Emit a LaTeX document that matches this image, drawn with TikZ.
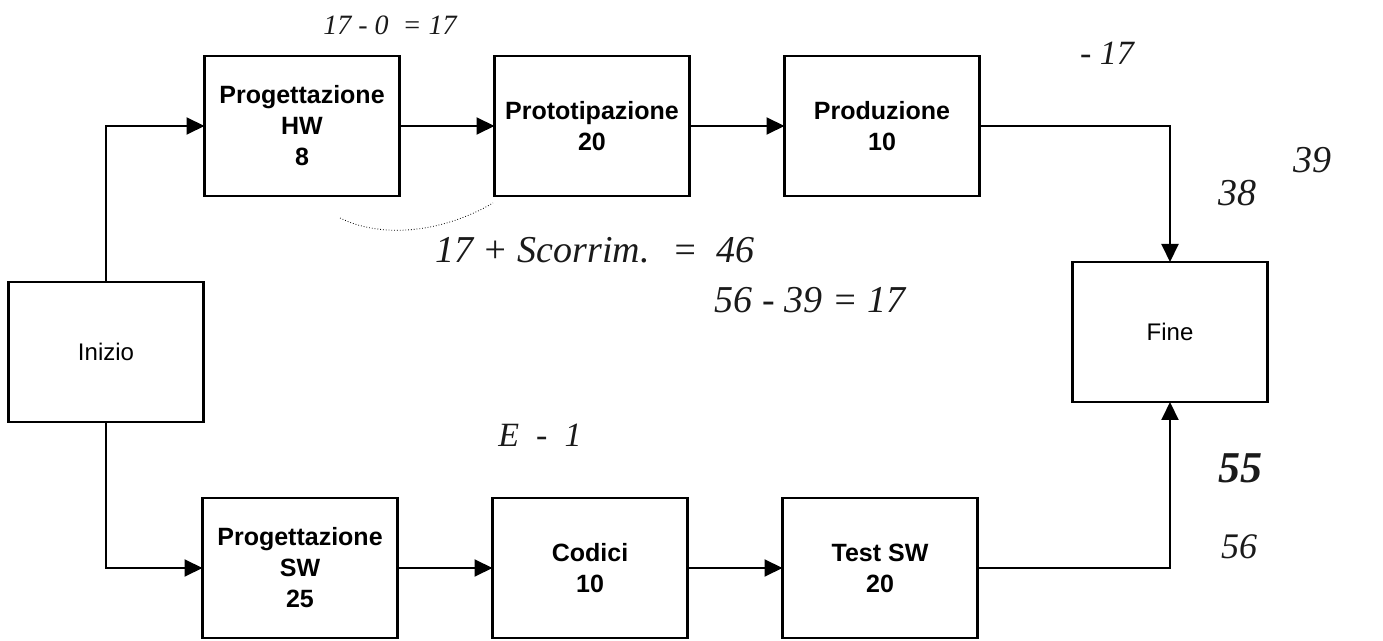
\documentclass[tikz,border=0pt]{standalone}
\usepackage{fontspec}
\setmainfont{Liberation Sans}
\newfontfamily\manuscrit{Liberation Serif}
\usepackage{tikz}
\usetikzlibrary{arrows.meta,positioning}
\definecolor{encre}{HTML}{1A1A1A}
\tikzset{
  boite/.style={draw,line width=1.2pt,minimum width=97.5pt,minimum height=70pt,
                inner sep=0pt,outer sep=0pt,align=center,
                font=\fontsize{12.5}{15.5}\selectfont\bfseries},
  fleche/.style={-{Triangle[length=9pt,width=8.5pt]},line width=1pt},
  note/.style={font=\manuscrit\itshape\fontsize{14}{16}\selectfont,inner sep=0pt,text=encre},
}

\begin{document}
\begin{tikzpicture}[x=0.5pt,y=-0.5pt,node distance=47.5pt,
  bout/.style={boite,font=\fontsize{12}{14}\selectfont},
  grande/.style={note,font=\manuscrit\itshape\fontsize{19}{21}\selectfont}]
  \useasboundingbox (0,0) rectangle (1383,641);
  \node[bout] (debut) at (106,352) {Inizio};
  \node[boite] (a) at (302,126) {Progettazione\\HW\\8};
  \node[boite,right=of a] (b) {Prototipazione\\20};
  \node[boite,right=of b] (c) {Produzione\\10};
  \node[boite] (d) at (300,568) {Progettazione\\SW\\25};
  \node[boite,right=of d] (e) {Codici\\10};
  \node[boite,right=of e] (f) {Test SW\\20};
  \node[bout] (fin) at (1170,332) {Fine};
  \foreach \u/\v in {a/b,b/c,d/e,e/f} \draw[fleche] (\u) -- (\v);
  \draw[fleche] (debut.north) |- (a.west);
  \draw[fleche] (debut.south) |- (d.west);
  \draw[fleche] (c.east) -| (fin.north);
  \draw[fleche] (f.east) -| (fin.south);
  % notes a la main
  \node[note] (n1) at (390,25) {17 - 0 \ = 17};
  \node[note,font=\manuscrit\itshape\fontsize{17}{19}\selectfont] (n2) at (1107,53) {- 17};
  \node[grande] (n3) at (1312,160) {39};
  \node[grande] (n4) at (1237,193) {38};
  \node[grande] (n5) at (595,250) {17 + Scorrim. \ = \ 46};
  \node[grande] (n6) at (810,300) {56 - 39 = 17};
  \node[note,font=\manuscrit\itshape\fontsize{17}{19}\selectfont] (n7) at (540,435) {E \ - \ 1};
  \node[note,font=\manuscrit\itshape\bfseries\fontsize{22}{24}\selectfont] (n8) at (1240,468) {55};
  \node[note,font=\manuscrit\itshape\fontsize{18}{20}\selectfont] (n9) at (1239,547) {56};
  \draw[densely dotted] (340,218) .. controls (380,238) and (440,234) .. (493,203);
\end{tikzpicture}
\end{document}
